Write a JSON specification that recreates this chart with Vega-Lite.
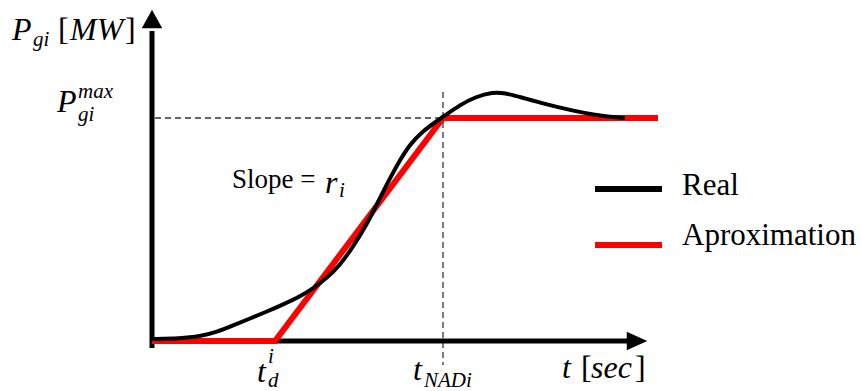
{
  "$schema": "https://vega.github.io/schema/vega-lite/v6.json",
  "width": 861,
  "height": 391,
  "padding": 0,
  "autosize": "none",
  "background": "white",
  "config": {"view": {"stroke": null}},
  "datasets": {
    "real": [
      {"t": 0, "p": 0.2}, {"t": 2.8, "p": 0.25}, {"t": 4.8, "p": 0.45}, {"t": 6.5, "p": 0.9},
      {"t": 8.1, "p": 1.55}, {"t": 9.8, "p": 2.25}, {"t": 11.5, "p": 2.95}, {"t": 13.1, "p": 3.65},
      {"t": 14.8, "p": 4.45}, {"t": 16.1, "p": 5.25}, {"t": 17.5, "p": 6.3}, {"t": 18.8, "p": 7.6},
      {"t": 20.1, "p": 9.4}, {"t": 21.5, "p": 11.7}, {"t": 22.5, "p": 13.7}, {"t": 23.5, "p": 15.7},
      {"t": 24.5, "p": 17.6}, {"t": 25.8, "p": 19.7}, {"t": 27.1, "p": 21.0}, {"t": 28.5, "p": 22.0},
      {"t": 29.3, "p": 22.55}, {"t": 30.8, "p": 23.6}, {"t": 32.3, "p": 24.4}, {"t": 34.1, "p": 24.9},
      {"t": 35.3, "p": 24.8}, {"t": 36.8, "p": 24.4}, {"t": 39.3, "p": 23.7}, {"t": 41.8, "p": 23.1},
      {"t": 44.3, "p": 22.6}, {"t": 45.8, "p": 22.4}, {"t": 47.3, "p": 22.3}
    ],
    "approx": [
      {"t": 0, "p": 0}, {"t": 12.3, "p": 0}, {"t": 29.1, "p": 22.3}, {"t": 50.6, "p": 22.3}
    ],
    "axes": [
      {"t": 0, "p": -0.7, "t2": 0, "p2": 31.0},
      {"t": -0.2, "p": 0, "t2": 47.8, "p2": 0}
    ],
    "guides": [
      {"t": 0.3, "p": 22.3, "t2": 29.1, "p2": 22.3},
      {"t": 29.1, "p": 24.9, "t2": 29.1, "p2": -2.4}
    ],
    "legend": [
      {"series": "Real", "t": 44.3, "t2": 51.0, "p": 15.2},
      {"series": "Aproximation", "t": 44.3, "t2": 51.0, "p": 9.6}
    ],
    "mathBig": [
      {"t": -14.0, "p": 30.1, "text": "P"},
      {"t": -8.2, "p": 30.1, "text": "MW"},
      {"t": -9.5, "p": 22.9, "text": "P"},
      {"t": 17.3, "p": 14.8, "text": "r"},
      {"t": 10.5, "p": -4.1, "text": "t"},
      {"t": 26.1, "p": -3.9, "text": "t"},
      {"t": 41.0, "p": -3.7, "text": "t"},
      {"t": 43.9, "p": -3.7, "text": "sec"}
    ],
    "mathSmall": [
      {"t": -11.9, "p": 29.5, "text": "gi"},
      {"t": -7.4, "p": 24.3, "text": "max"},
      {"t": -7.4, "p": 22.0, "text": "gi"},
      {"t": 18.7, "p": 14.4, "text": "i"},
      {"t": 11.6, "p": -2.2, "text": "i"},
      {"t": 11.6, "p": -4.6, "text": "d"},
      {"t": 27.2, "p": -4.6, "text": "NADi"}
    ],
    "brackets": [
      {"t": -9.4, "p": 30.1, "text": "["},
      {"t": -2.7, "p": 30.1, "text": "]"},
      {"t": 42.9, "p": -3.7, "text": "["},
      {"t": 48.3, "p": -3.7, "text": "]"}
    ],
    "slope": [{"t": 8.0, "p": 15.3, "text": "Slope ="}],
    "legendText": [
      {"t": 53.0, "p": 14.6, "text": "Real"},
      {"t": 53.0, "p": 9.6, "text": "Aproximation"}
    ]
  },
  "encoding": {
    "x": {"field": "t", "type": "quantitative", "axis": null,
          "scale": {"domain": [-15.2, 70.9], "nice": false, "zero": false}},
    "y": {"field": "p", "type": "quantitative", "axis": null,
          "scale": {"domain": [-5, 34.1], "nice": false, "zero": false}}
  },
  "layer": [
    {
      "data": {"name": "guides"},
      "mark": {"type": "rule", "color": "#333333", "strokeWidth": 1.3, "strokeDash": [6, 4]},
      "encoding": {"x2": {"field": "t2"}, "y2": {"field": "p2"}}
    },
    {
      "data": {"name": "axes"},
      "mark": {"type": "rule", "color": "black", "strokeWidth": 5},
      "encoding": {"x2": {"field": "t2"}, "y2": {"field": "p2"}}
    },
    {
      "data": {"values": [{"t": 0, "p": 32.2}]},
      "mark": {"type": "point", "filled": true, "color": "black", "opacity": 1,
               "shape": "M0,-0.9L-1,0.9L1,0.9Z", "size": 420, "strokeWidth": 0}
    },
    {
      "data": {"values": [{"t": 48.5, "p": 0}]},
      "mark": {"type": "point", "filled": true, "color": "black", "opacity": 1,
               "shape": "M1,0L-1,-0.9L-1,0.9Z", "size": 420, "strokeWidth": 0}
    },
    {
      "data": {"name": "approx"},
      "mark": {"type": "line", "color": "#ff0000", "strokeWidth": 6, "strokeJoin": "miter", "strokeCap": "butt"}
    },
    {
      "data": {"name": "real"},
      "mark": {"type": "line", "color": "black", "strokeWidth": 4, "interpolate": "basis", "strokeCap": "butt"}
    },
    {
      "data": {"name": "legend"},
      "mark": {"type": "rule", "strokeWidth": 6},
      "encoding": {
        "x2": {"field": "t2"},
        "color": {"field": "series", "type": "nominal", "legend": null,
                  "scale": {"domain": ["Real", "Aproximation"], "range": ["black", "#ff0000"]}}
      }
    },
    {
      "data": {"name": "mathBig"},
      "mark": {"type": "text", "font": "Liberation Serif", "fontStyle": "italic", "fontSize": 32,
               "align": "left", "baseline": "alphabetic", "color": "black"},
      "encoding": {"text": {"field": "text"}}
    },
    {
      "data": {"name": "mathSmall"},
      "mark": {"type": "text", "font": "Liberation Serif", "fontStyle": "italic", "fontSize": 21,
               "align": "left", "baseline": "alphabetic", "color": "black"},
      "encoding": {"text": {"field": "text"}}
    },
    {
      "data": {"name": "brackets"},
      "mark": {"type": "text", "font": "Liberation Serif", "fontSize": 32,
               "align": "left", "baseline": "alphabetic", "color": "black"},
      "encoding": {"text": {"field": "text"}}
    },
    {
      "data": {"name": "slope"},
      "mark": {"type": "text", "font": "Liberation Serif", "fontSize": 27,
               "align": "left", "baseline": "alphabetic", "color": "black"},
      "encoding": {"text": {"field": "text"}}
    },
    {
      "data": {"name": "legendText"},
      "mark": {"type": "text", "font": "Liberation Serif", "fontSize": 31,
               "align": "left", "baseline": "alphabetic", "color": "black"},
      "encoding": {"text": {"field": "text"}}
    }
  ]
}
